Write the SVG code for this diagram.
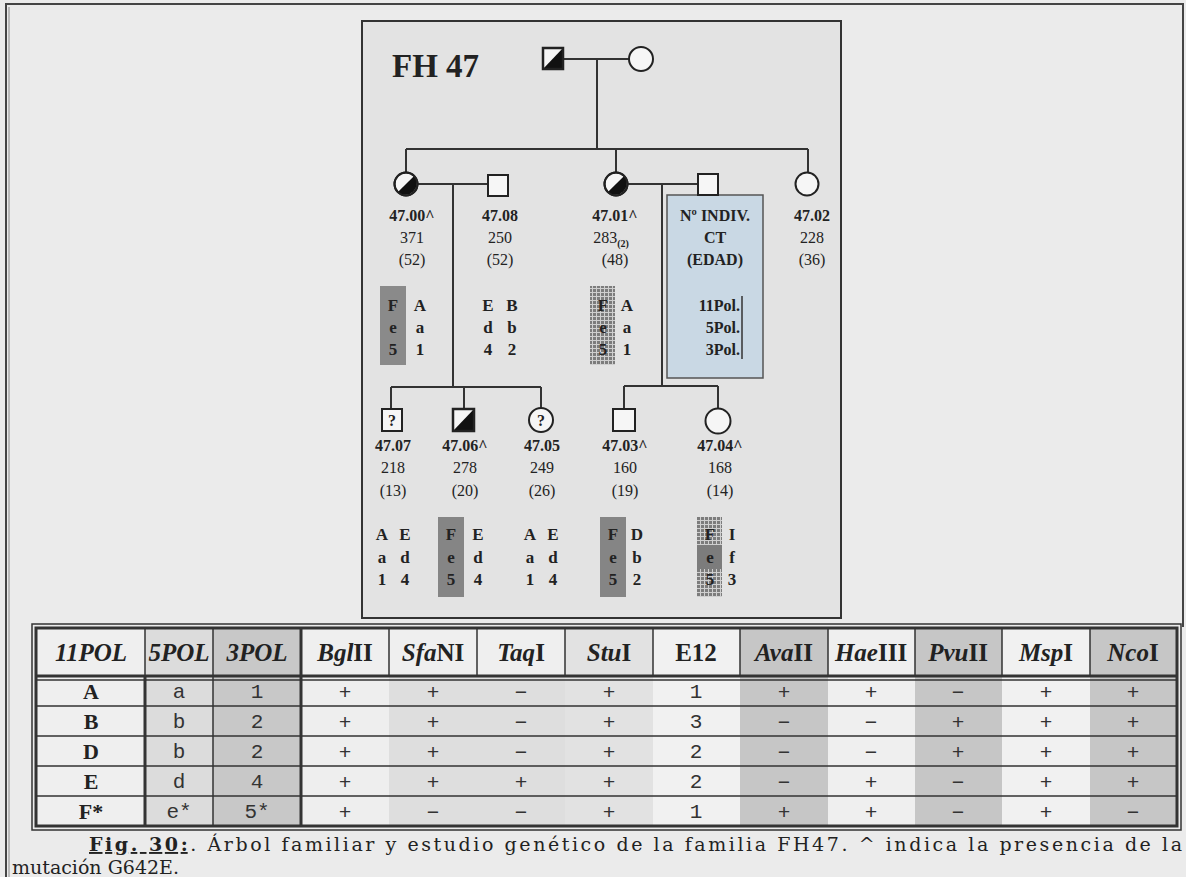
<svg xmlns="http://www.w3.org/2000/svg" width="1186" height="877" viewBox="0 0 1186 877">
<defs>
<style>
.t{font-family:'Liberation Serif',serif;fill:#222;text-anchor:middle}
.id{font-weight:bold;font-size:16px}
.n{font-size:16px}
.hp{font-weight:bold;font-size:17px}
.sym{fill:#f6f6f6;stroke:#222;stroke-width:2}
.ln{stroke:#333;stroke-width:2;fill:none}
.hd{font-family:'Liberation Serif',serif;font-weight:bold;font-size:25px;fill:#222;text-anchor:middle}
.it{font-style:italic}
.c1{font-family:'Liberation Serif',serif;font-weight:bold;font-size:22px;fill:#222;text-anchor:middle}
.m{font-family:'Liberation Mono',monospace;font-size:21px;fill:#333;text-anchor:middle}
.tl{stroke:#333;stroke-width:1.5;fill:none}
.tb{stroke:#333;stroke-width:3;fill:none}
</style>
<pattern id="hatch" width="4" height="4" patternUnits="userSpaceOnUse">
<rect width="4" height="4" fill="#7c7c7c"/>
<path d="M0,0.5H4M0.5,0V4" stroke="#cfcfcf" stroke-width="1"/>
</pattern>
</defs>
<rect width="1186" height="877" fill="#ebebeb"/>
<path d="M6,877V4H1183V627" fill="none" stroke="#444" stroke-width="2"/>
<path d="M9,877V7" fill="none" stroke="#888" stroke-width="1"/>

<g id="pedigree-frame">
<rect x="362" y="21" width="479" height="597" fill="#e3e3e3" stroke="#333" stroke-width="2"/>
<text x="392" y="77" style="font-family:'Liberation Serif',serif;font-weight:bold;font-size:33px;fill:#222">FH 47</text>
</g>

<g id="legend">
<rect x="667" y="195" width="96" height="183" fill="#c9d8e4" stroke="#555" stroke-width="1.5"/>
<text class="t id" x="715" y="221">Nº INDIV.</text>
<text class="t id" x="715" y="243">CT</text>
<text class="t id" x="715" y="265">(EDAD)</text>
<text class="t id" x="740" y="311" style="text-anchor:end">11Pol.</text>
<text class="t id" x="740" y="333" style="text-anchor:end">5Pol.</text>
<text class="t id" x="740" y="355" style="text-anchor:end">3Pol.</text>
<path d="M742,296V359" stroke="#333" stroke-width="1.5"/>
</g>

<g id="connectors">
<path class="ln" d="M563,59H629M597,59V149M406,149H808M406,149V172M616,149V172M808,149V172"/>
<path class="ln" d="M418,184H488M453,184V387M391,387H541M391,387V409M464,387V409M541,387V408"/>
<path class="ln" d="M627,184H698M662,184V386M624,386H718M624,386V409M718,386V408"/>
</g>

<g id="father">
<rect class="sym" x="543" y="48" width="20" height="21"/>
<path d="M543,69L563,48V69Z" fill="#111"/>
<rect x="543" y="48" width="20" height="21" fill="none" stroke="#222" stroke-width="2.5"/>
</g>
<g id="mother">
<circle class="sym" cx="641" cy="59" r="12"/>
</g>

<g id="p4700">
<circle class="sym" cx="406" cy="184" r="11.5"/>
<path d="M414.1,175.9A11.5,11.5 0 0 1 397.9,192.1Z" fill="#111"/>
<circle cx="406" cy="184" r="11.5" fill="none" stroke="#222" stroke-width="2"/>
<text class="t id" x="412" y="221">47.00^</text>
<text class="t n" x="412" y="243">371</text>
<text class="t n" x="412" y="265">(52)</text>
<rect x="380" y="286" width="26" height="79" fill="#8a8a8a"/>
<text class="t hp" x="393" y="311">F</text>
<text class="t hp" x="393" y="333">e</text>
<text class="t hp" x="393" y="355">5</text>
<text class="t hp" x="420" y="311">A</text>
<text class="t hp" x="420" y="333">a</text>
<text class="t hp" x="420" y="355">1</text>
</g>

<g id="p4708">
<rect class="sym" x="488" y="175" width="20" height="21"/>
<text class="t id" x="500" y="221">47.08</text>
<text class="t n" x="500" y="243">250</text>
<text class="t n" x="500" y="265">(52)</text>
<text class="t hp" x="488" y="311">E</text>
<text class="t hp" x="488" y="333">d</text>
<text class="t hp" x="488" y="355">4</text>
<text class="t hp" x="512" y="311">B</text>
<text class="t hp" x="512" y="333">b</text>
<text class="t hp" x="512" y="355">2</text>
</g>

<g id="p4701">
<circle class="sym" cx="616" cy="184" r="11.5"/>
<path d="M624.1,175.9A11.5,11.5 0 0 1 607.9,192.1Z" fill="#111"/>
<circle cx="616" cy="184" r="11.5" fill="none" stroke="#222" stroke-width="2"/>
<text class="t id" x="615" y="221">47.01^</text>
<text class="t n" x="611" y="243">283<tspan font-size="10" font-weight="bold" dy="4">(2)</tspan></text>
<text class="t n" x="615" y="265">(48)</text>
<rect x="590" y="286" width="25" height="79" fill="url(#hatch)"/>
<text class="t hp" x="603" y="311">F</text>
<text class="t hp" x="603" y="333">e</text>
<text class="t hp" x="603" y="355">5</text>
<text class="t hp" x="627" y="311">A</text>
<text class="t hp" x="627" y="333">a</text>
<text class="t hp" x="627" y="355">1</text>
</g>

<g id="p4701spouse">
<rect class="sym" x="698" y="174" width="20" height="21"/>
</g>

<g id="p4702">
<circle class="sym" cx="807" cy="184" r="11.5"/>
<text class="t id" x="812" y="221">47.02</text>
<text class="t n" x="812" y="243">228</text>
<text class="t n" x="812" y="265">(36)</text>
</g>

<g id="p4707">
<rect class="sym" x="382" y="409" width="20" height="22"/>
<text class="t id" x="392" y="426">?</text>
<text class="t id" x="393" y="451">47.07</text>
<text class="t n" x="393" y="473">218</text>
<text class="t n" x="393" y="496">(13)</text>
<text class="t hp" x="382" y="540">A</text>
<text class="t hp" x="382" y="563">a</text>
<text class="t hp" x="382" y="585">1</text>
<text class="t hp" x="405" y="540">E</text>
<text class="t hp" x="405" y="563">d</text>
<text class="t hp" x="405" y="585">4</text>
</g>

<g id="p4706">
<rect class="sym" x="453" y="409" width="21" height="22"/>
<path d="M453,431L474,409V431Z" fill="#111"/>
<rect x="453" y="409" width="21" height="22" fill="none" stroke="#222" stroke-width="2.5"/>
<text class="t id" x="465" y="451">47.06^</text>
<text class="t n" x="465" y="473">278</text>
<text class="t n" x="465" y="496">(20)</text>
<rect x="438" y="517" width="26" height="80" fill="#858585"/>
<text class="t hp" x="451" y="540">F</text>
<text class="t hp" x="451" y="563">e</text>
<text class="t hp" x="451" y="585">5</text>
<text class="t hp" x="478" y="540">E</text>
<text class="t hp" x="478" y="563">d</text>
<text class="t hp" x="478" y="585">4</text>
</g>

<g id="p4705">
<circle class="sym" cx="541" cy="420" r="12"/>
<text class="t id" x="541" y="426">?</text>
<text class="t id" x="542" y="451">47.05</text>
<text class="t n" x="542" y="473">249</text>
<text class="t n" x="542" y="496">(26)</text>
<text class="t hp" x="530" y="540">A</text>
<text class="t hp" x="530" y="563">a</text>
<text class="t hp" x="530" y="585">1</text>
<text class="t hp" x="553" y="540">E</text>
<text class="t hp" x="553" y="563">d</text>
<text class="t hp" x="553" y="585">4</text>
</g>

<g id="p4703">
<rect class="sym" x="613" y="409" width="22" height="22"/>
<text class="t id" x="625" y="451">47.03^</text>
<text class="t n" x="625" y="473">160</text>
<text class="t n" x="625" y="496">(19)</text>
<rect x="600" y="517" width="26" height="80" fill="#858585"/>
<text class="t hp" x="613" y="540">F</text>
<text class="t hp" x="613" y="563">e</text>
<text class="t hp" x="613" y="585">5</text>
<text class="t hp" x="637" y="540">D</text>
<text class="t hp" x="637" y="563">b</text>
<text class="t hp" x="637" y="585">2</text>
</g>

<g id="p4704">
<circle class="sym" cx="718" cy="421" r="12.5"/>
<text class="t id" x="720" y="451">47.04^</text>
<text class="t n" x="720" y="473">168</text>
<text class="t n" x="720" y="496">(14)</text>
<rect x="697" y="517" width="25" height="80" fill="url(#hatch)"/>
<rect x="697" y="545" width="25" height="24" fill="#7c7c7c"/>
<text class="t hp" x="710" y="540">F</text>
<text class="t hp" x="710" y="563">e</text>
<text class="t hp" x="710" y="585">5</text>
<text class="t hp" x="732" y="540">I</text>
<text class="t hp" x="732" y="563">f</text>
<text class="t hp" x="732" y="585">3</text>
</g>

<g id="table">
<g id="col-fills">
<rect x="36" y="628" width="109" height="198" fill="#efefef"/>
<rect x="145" y="628" width="68" height="198" fill="#dcdcdc"/>
<rect x="213" y="628" width="88" height="198" fill="#c8c8c8"/>
<rect x="301" y="628" width="88" height="198" fill="#eeeeee"/>
<rect x="389" y="628" width="88" height="198" fill="#dedede"/>
<rect x="477" y="628" width="88" height="198" fill="#dedede"/>
<rect x="565" y="628" width="88" height="198" fill="#e2e2e2"/>
<rect x="653" y="628" width="87" height="198" fill="#f1f1f1"/>
<rect x="740" y="628" width="88" height="198" fill="#c6c6c6"/>
<rect x="828" y="628" width="87" height="198" fill="#efefef"/>
<rect x="915" y="628" width="87" height="198" fill="#c6c6c6"/>
<rect x="1002" y="628" width="88" height="198" fill="#f1f1f1"/>
<rect x="1090" y="628" width="87" height="198" fill="#c6c6c6"/>
<rect x="301" y="628" width="264" height="48" fill="#efefef"/>
</g>
<g id="table-lines">
<rect class="tb" x="36" y="628" width="1141" height="198"/>
<rect class="tl" x="32" y="624" width="1149" height="206"/>
<path class="tb" d="M36,676H1177"/>
<path class="tl" d="M36,680H1177"/>
<path class="tl" d="M145,628V676M213,628V676M301,628V676M389,628V676M477,628V676M565,628V676M653,628V676M740,628V676M828,628V676M915,628V676M1002,628V676M1090,628V676"/>
<path class="tb" d="M145,676V826M301,628V826"/>
<path class="tl" d="M213,676V826"/>
<path class="tl" d="M36,706H1177M36,736H1177M36,766H1177M36,796H1177"/>
</g>
<g id="table-header">
<text class="hd it" x="91" y="661" font-size="27">11POL</text>
<text class="hd it" x="179" y="661">5POL</text>
<text class="hd it" x="257" y="661">3POL</text>
<text class="hd" x="345" y="661"><tspan class="it">Bgl</tspan>II</text>
<text class="hd" x="433" y="661"><tspan class="it">Sfa</tspan>NI</text>
<text class="hd" x="521" y="661"><tspan class="it">Taq</tspan>I</text>
<text class="hd" x="609" y="661"><tspan class="it">Stu</tspan>I</text>
<text class="hd" x="696" y="661">E12</text>
<text class="hd" x="784" y="661"><tspan class="it">Ava</tspan>II</text>
<text class="hd" x="871" y="661"><tspan class="it">Hae</tspan>III</text>
<text class="hd" x="958" y="661"><tspan class="it">Pvu</tspan>II</text>
<text class="hd" x="1046" y="661"><tspan class="it">Msp</tspan>I</text>
<text class="hd" x="1133" y="661"><tspan class="it">Nco</tspan>I</text>
</g>
<g id="row-A">
<text class="c1" x="91" y="699">A</text><text class="m" x="179" y="698">a</text><text class="m" x="257" y="698">1</text>
<text class="m" x="345" y="699">+</text><text class="m" x="433" y="699">+</text><text class="m" x="521" y="699">−</text><text class="m" x="609" y="699">+</text><text class="m" x="696" y="698">1</text><text class="m" x="784" y="699">+</text><text class="m" x="871" y="699">+</text><text class="m" x="958" y="699">−</text><text class="m" x="1046" y="699">+</text><text class="m" x="1133" y="699">+</text>
</g>
<g id="row-B">
<text class="c1" x="91" y="729">B</text><text class="m" x="179" y="728">b</text><text class="m" x="257" y="728">2</text>
<text class="m" x="345" y="729">+</text><text class="m" x="433" y="729">+</text><text class="m" x="521" y="729">−</text><text class="m" x="609" y="729">+</text><text class="m" x="696" y="728">3</text><text class="m" x="784" y="729">−</text><text class="m" x="871" y="729">−</text><text class="m" x="958" y="729">+</text><text class="m" x="1046" y="729">+</text><text class="m" x="1133" y="729">+</text>
</g>
<g id="row-D">
<text class="c1" x="91" y="759">D</text><text class="m" x="179" y="758">b</text><text class="m" x="257" y="758">2</text>
<text class="m" x="345" y="759">+</text><text class="m" x="433" y="759">+</text><text class="m" x="521" y="759">−</text><text class="m" x="609" y="759">+</text><text class="m" x="696" y="758">2</text><text class="m" x="784" y="759">−</text><text class="m" x="871" y="759">−</text><text class="m" x="958" y="759">+</text><text class="m" x="1046" y="759">+</text><text class="m" x="1133" y="759">+</text>
</g>
<g id="row-E">
<text class="c1" x="91" y="789">E</text><text class="m" x="179" y="788">d</text><text class="m" x="257" y="788">4</text>
<text class="m" x="345" y="789">+</text><text class="m" x="433" y="789">+</text><text class="m" x="521" y="789">+</text><text class="m" x="609" y="789">+</text><text class="m" x="696" y="788">2</text><text class="m" x="784" y="789">−</text><text class="m" x="871" y="789">+</text><text class="m" x="958" y="789">−</text><text class="m" x="1046" y="789">+</text><text class="m" x="1133" y="789">+</text>
</g>
<g id="row-F">
<text class="c1" x="91" y="819">F*</text><text class="m" x="179" y="818">e*</text><text class="m" x="257" y="818">5*</text>
<text class="m" x="345" y="819">+</text><text class="m" x="433" y="819">−</text><text class="m" x="521" y="819">−</text><text class="m" x="609" y="819">+</text><text class="m" x="696" y="818">1</text><text class="m" x="784" y="819">+</text><text class="m" x="871" y="819">+</text><text class="m" x="958" y="819">−</text><text class="m" x="1046" y="819">+</text><text class="m" x="1133" y="819">−</text>
</g>
</g>

<g id="caption" style="font-family:'DejaVu Serif',serif;font-size:19px;fill:#222">
<text x="89" y="851" textLength="1093" lengthAdjust="spacing"><tspan font-weight="bold" text-decoration="underline">Fig. 30:</tspan>. Árbol familiar y estudio genético de la familia FH47. ^ indica la presencia de la</text>
<text x="12" y="874">mutación G642E.</text>
</g>
</svg>
